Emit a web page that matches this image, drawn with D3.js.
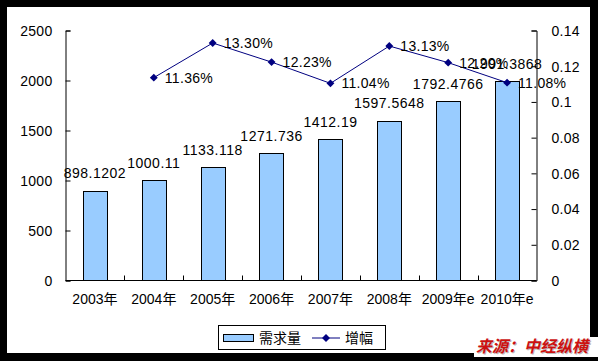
<!DOCTYPE html>
<html><head><meta charset="utf-8">
<script src="https://cdn.jsdelivr.net/npm/d3@7"></script>
<style>body{margin:0;background:#000;}svg{display:block;}</style>
</head><body>
<script>
const categories = ["2003年","2004年","2005年","2006年","2007年","2008年","2009年e","2010年e"];
const demand = [898.1202, 1000.11, 1133.118, 1271.736, 1412.19, 1597.5648, 1792.4766, 1991.3868];
const demandLabels = ["898.1202","1000.11","1133.118","1271.736","1412.19","1597.5648","1792.4766","1991.3868"];
const growthCats = ["2004年","2005年","2006年","2007年","2008年","2009年e","2010年e"];
const growth = [0.1136, 0.1330, 0.1223, 0.1104, 0.1313, 0.1220, 0.1108];
const growthLabels = ["11.36%","13.30%","12.23%","11.04%","13.13%","12.20%","11.08%"];
const leftTicks = [0,500,1000,1500,2000,2500];
const rightTicks = [0,0.02,0.04,0.06,0.08,0.1,0.12,0.14];
const seriesNames = ["需求量","增幅"];
const source = "来源：中经纵横";

const W=598,H=361;
const font = "'Liberation Sans', Arial, 'Noto Sans CJK SC', sans-serif";
const svg = d3.select("body").append("svg").attr("width",W).attr("height",H)
  .style("font-family",font);
svg.append("rect").attr("width",W).attr("height",H).attr("fill","#000");
svg.append("rect").attr("x",7).attr("y",7).attr("width",583).attr("height",346).attr("fill","#fff");

const L=65.5,R=536.5,T=30.5,B=280.5;
const x = d3.scaleBand().domain(categories).range([L,R]).paddingInner(0.59).paddingOuter(0.295);
const xb = d3.scaleBand().domain(categories).range([L,R]);
const yL = d3.scaleLinear().domain([0,2500]).range([B,T]);
const yR = d3.scaleLinear().domain([0,0.14]).range([B,T]);

// bars
svg.append("g").selectAll("rect").data(demand).join("rect")
  .attr("x",(d,i)=>Math.round(x(categories[i]))+0.5)
  .attr("y",d=>Math.round(yL(d))+0.5)
  .attr("width",Math.round(x.bandwidth()))
  .attr("height",d=>B-Math.round(yL(d))-0.5)
  .attr("fill","#99ccff").attr("stroke","#000").attr("stroke-width",1);

// axes
const gl = svg.append("g").attr("transform",`translate(${L},0)`)
  .call(d3.axisLeft(yL).tickValues(leftTicks).tickSize(-5).tickPadding(13).tickFormat(d3.format("d")));
const gr = svg.append("g").attr("transform",`translate(${R},0)`)
  .call(d3.axisRight(yR).tickValues(rightTicks).tickSize(-5).tickPadding(15).tickFormat(d=>d===0?"0":String(+d.toFixed(2))));
const gx = svg.append("g").attr("transform",`translate(0,${B})`)
  .call(d3.axisBottom(xb).tickSize(0).tickPadding(14));
[gl,gr,gx].forEach(g=>{
  g.select(".domain").attr("stroke","#000");
  g.selectAll(".tick line").attr("stroke","#000");
  g.selectAll("text").attr("fill","#000").style("font-size","14px").style("font-family",font);
});
gl.selectAll(".tick text").attr("dy","0.35em").style("letter-spacing","0.3px");
gr.selectAll(".tick text").attr("dy","0.35em").style("letter-spacing","0.3px");
gx.select(".domain").attr("d",`M${L},0H${R}`);
// inward category ticks at band boundaries
svg.append("g").selectAll("line").data(categories.slice(1)).join("line")
  .attr("x1",d=>Math.round(xb(d))+0.5).attr("x2",d=>Math.round(xb(d))+0.5)
  .attr("y1",B).attr("y2",B-5).attr("stroke","#000");

// bar labels
svg.append("g").selectAll("text").data(demandLabels).join("text")
  .attr("x",(d,i)=>x(categories[i])+x.bandwidth()/2)
  .attr("y",(d,i)=>yL(demand[i])-12.5)
  .attr("text-anchor","middle").style("font-size","14px").style("letter-spacing","0.5px")
  .attr("fill","#000").text(d=>d);

// growth line
const cx = c=>xb(c)+xb.bandwidth()/2;
svg.append("path").datum(growth)
  .attr("d",d3.line().x((d,i)=>cx(growthCats[i])).y(d=>yR(d)))
  .attr("fill","none").attr("stroke","#000080").attr("stroke-width",1);
const diamond = d3.symbol().type(d3.symbolDiamond2).size(40);
svg.append("g").selectAll("path").data(growth).join("path")
  .attr("transform",(d,i)=>`translate(${cx(growthCats[i])},${yR(d)})`)
  .attr("d",diamond).attr("fill","#000080");
svg.append("g").selectAll("text").data(growthLabels).join("text")
  .attr("x",(d,i)=>cx(growthCats[i])+11)
  .attr("y",(d,i)=>yR(growth[i]))
  .attr("dy","0.35em").style("font-size","14px").style("letter-spacing","0.3px")
  .attr("fill","#000").text(d=>d);

// legend
const lg = svg.append("g");
lg.append("rect").attr("x",218.5).attr("y",325.5).attr("width",167).attr("height",24)
  .attr("fill","#fff").attr("stroke","#000");
lg.append("rect").attr("x",223.5).attr("y",334.5).attr("width",30).attr("height",7)
  .attr("fill","#99ccff").attr("stroke","#000");
lg.append("text").attr("x",259).attr("y",338).attr("dy","0.35em").style("font-size","14px").text(seriesNames[0]);
lg.append("line").attr("x1",312).attr("x2",340).attr("y1",338).attr("y2",338).attr("stroke","#000080");
lg.append("path").attr("transform","translate(326,338)").attr("d",diamond).attr("fill","#000080");
lg.append("text").attr("x",345).attr("y",338).attr("dy","0.35em").style("font-size","14px").text(seriesNames[1]);

// source
svg.append("rect").attr("x",474).attr("y",337).attr("width",124).attr("height",20).attr("fill","#fff");
svg.append("text").attr("x",477).attr("y",353).style("font-size","16px").style("font-weight","bold")
  .style("font-style","italic").attr("fill","#bbb").text(source);
svg.append("text").attr("x",476).attr("y",352).style("font-size","16px").style("font-weight","bold")
  .style("font-style","italic").attr("fill","#cc1111").text(source);
</script>
</body></html>
